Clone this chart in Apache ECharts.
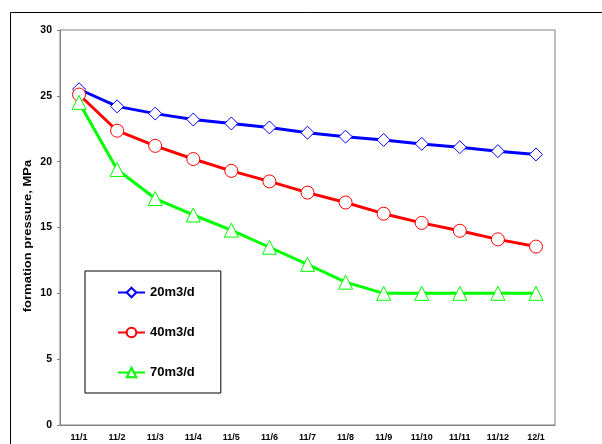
<!DOCTYPE html>
<html>
<head>
<meta charset="utf-8">
<script src="https://cdn.jsdelivr.net/npm/echarts@6/dist/echarts.min.js"></script>
<style>
  html, body { margin: 0; padding: 0; background: #fff; }
  #chart { width: 602px; height: 444px; }
</style>
</head>
<body>
<div id="chart"></div>
<script>
// Dates of the pressure readings
const dates = ['11/1', '11/2', '11/3', '11/4', '11/5', '11/6', '11/7', '11/8', '11/9', '11/10', '11/11', '11/12', '12/1'];

// Formation pressure (MPa) for each production rate
const rate20 = [25.5, 24.2, 23.65, 23.2, 22.9, 22.6, 22.2, 21.9, 21.65, 21.35, 21.1, 20.8, 20.55];
const rate40 = [25.1, 22.35, 21.2, 20.2, 19.3, 18.5, 17.65, 16.9, 16.05, 15.35, 14.75, 14.1, 13.55];
const rate70 = [24.5, 19.4, 17.2, 15.95, 14.8, 13.5, 12.2, 10.85, 10, 10, 10, 10, 10];

const seriesNames = ['20m3/d', '40m3/d', '70m3/d'];
const yTicks = [0, 5, 10, 15, 20, 25, 30];
const yTitle = 'formation pressure, MPa';

const font = 'Arial, "Liberation Sans", sans-serif';

function makeSeries(name, data, color, symbol, size) {
  return {
    name: name,
    type: 'line',
    data: data,
    symbol: symbol,
    symbolSize: size,
    showAllSymbol: true,
    lineStyle: { color: color, width: 3 },
    itemStyle: { color: '#fff', borderColor: color, borderWidth: 1 },
    emphasis: { disabled: true },
    z: 3
  };
}

const chart = echarts.init(document.getElementById('chart'), null, { renderer: 'canvas' });
chart.setOption({
  animation: false,
  backgroundColor: '#fff',
  graphic: [{
    type: 'rect',
    shape: { x: 10.5, y: 12.5, width: 620, height: 460 },
    style: { fill: 'none', stroke: '#000', lineWidth: 1 },
    silent: true,
    z: -10
  }, {
    // vertical axis title
    type: 'text',
    x: 28, y: 236,
    rotation: Math.PI / 2,
    scaleY: 0.85,
    style: {
      text: yTitle,
      font: 'bold 13px ' + font,
      fill: '#000',
      align: 'center',
      verticalAlign: 'middle'
    },
    silent: true
  }],
  grid: {
    left: 60, right: 47, top: 30, bottom: 19,
    show: true, borderColor: '#808080', borderWidth: 1, backgroundColor: 'transparent'
  },
  legend: {
    orient: 'vertical',
    left: 85, top: 271,
    padding: [15, 26, 14, 32],
    itemGap: 27,
    itemWidth: 27,
    itemHeight: 12,
    backgroundColor: '#fff',
    borderColor: '#000',
    borderWidth: 1,
    data: seriesNames,
    textStyle: { fontFamily: font, fontWeight: 'bold', fontSize: 13, color: '#000' }
  },
  xAxis: {
    type: 'category',
    data: dates,
    boundaryGap: true,
    axisLine: { lineStyle: { color: '#808080', width: 1 } },
    axisTick: { inside: true, length: 3, lineStyle: { color: '#808080' } },
    axisLabel: { fontFamily: font, fontWeight: 'bold', fontSize: 9, color: '#000', margin: 8, interval: 0 },
    splitLine: { show: false }
  },
  yAxis: {
    type: 'value',
    min: yTicks[0], max: yTicks[yTicks.length - 1], interval: 5,
    axisLine: { show: true, lineStyle: { color: '#808080', width: 1 } },
    axisTick: { show: true, length: 3, lineStyle: { color: '#808080' } },
    axisLabel: { fontFamily: font, fontWeight: 'bold', fontSize: 10.5, color: '#000', margin: 8 },
    splitLine: { show: false }
  },
  series: [
    makeSeries(seriesNames[0], rate20, '#0000ff', 'diamond', 13),
    makeSeries(seriesNames[1], rate40, '#ff0000', 'circle', 13),
    makeSeries(seriesNames[2], rate70, '#00ff00', 'triangle', 14)
  ]
});
</script>
</body>
</html>
